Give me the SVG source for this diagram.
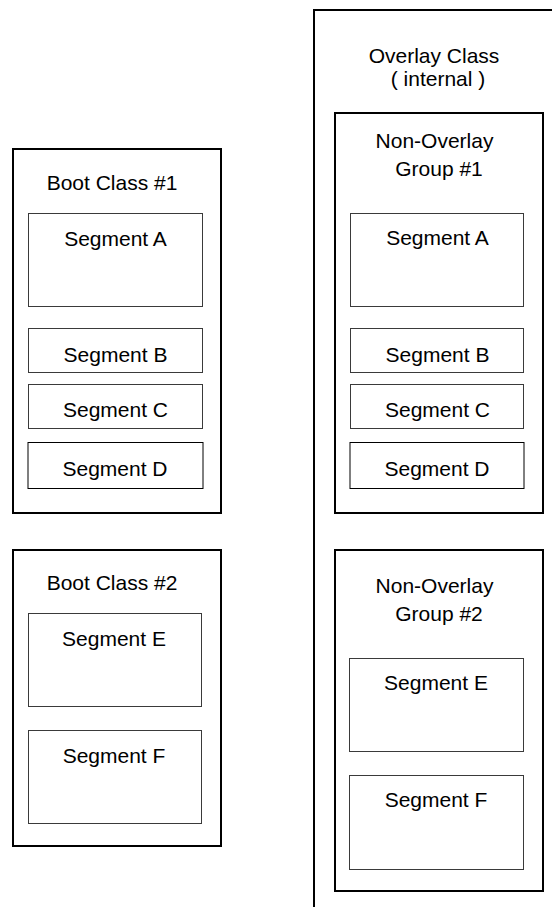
<svg xmlns="http://www.w3.org/2000/svg" width="552" height="907" viewBox="0 0 552 907">
<style>
  .outer { fill: none; stroke: #000; stroke-width: 2; }
  .seg { fill: #fff; stroke: #3a3a3a; stroke-width: 1; }
  .segd { fill: #fff; stroke: #000; stroke-width: 1; }
  text { font-family: "Liberation Sans", Arial, sans-serif; font-size: 21px; fill: #000; text-anchor: middle; }
</style>
<rect width="552" height="907" fill="#fff"/>
<g id="boot-class-1">
  <rect class="outer" x="13" y="149" width="208" height="364"/>
  <text x="112" y="190">Boot Class #1</text>
  <g id="boot1-seg-a"><rect class="seg" x="28.5" y="213.5" width="174" height="93"/><text x="115.5" y="246">Segment A</text></g>
  <g id="boot1-seg-b"><rect class="seg" x="28.5" y="328.5" width="174" height="44"/><text x="115.5" y="361.5">Segment B</text></g>
  <g id="boot1-seg-c"><rect class="seg" x="28.5" y="384.5" width="174" height="44"/><text x="115.5" y="417">Segment C</text></g>
  <g id="boot1-seg-d"><rect class="segd" x="28" y="442.5" width="175" height="46"/><text x="115" y="476">Segment D</text></g>
</g>
<g id="boot-class-2">
  <rect class="outer" x="13" y="550" width="208" height="296"/>
  <text x="112" y="590">Boot Class #2</text>
  <g id="boot2-seg-e"><rect class="seg" x="28.5" y="613.5" width="173" height="93"/><text x="114" y="646">Segment E</text></g>
  <g id="boot2-seg-f"><rect class="seg" x="28.5" y="730.5" width="173" height="93"/><text x="114" y="763">Segment F</text></g>
</g>
<g id="overlay-class">
  <path class="outer" d="M314,907 V10 H553"/>
  <text x="434" y="63">Overlay Class</text>
  <text x="438" y="86">( internal )</text>
</g>
<g id="non-overlay-group-1">
  <rect class="outer" x="335" y="113" width="208" height="400"/>
  <text x="434.5" y="148">Non-Overlay</text>
  <text x="439" y="176">Group #1</text>
  <g id="nog1-seg-a"><rect class="seg" x="350.5" y="213.5" width="173" height="93"/><text x="437.5" y="245">Segment A</text></g>
  <g id="nog1-seg-b"><rect class="seg" x="350.5" y="328.5" width="173" height="44"/><text x="437.5" y="361.5">Segment B</text></g>
  <g id="nog1-seg-c"><rect class="seg" x="350.5" y="384.5" width="173" height="44"/><text x="437.5" y="417">Segment C</text></g>
  <g id="nog1-seg-d"><rect class="segd" x="350" y="442.5" width="174" height="46"/><text x="437" y="476">Segment D</text></g>
</g>
<g id="non-overlay-group-2">
  <rect class="outer" x="335" y="550" width="208" height="341"/>
  <text x="434.5" y="593">Non-Overlay</text>
  <text x="439" y="621">Group #2</text>
  <g id="nog2-seg-e"><rect class="seg" x="349.5" y="658.5" width="174" height="93"/><text x="436" y="690">Segment E</text></g>
  <g id="nog2-seg-f"><rect class="seg" x="349.5" y="775.5" width="174" height="94"/><text x="436" y="807">Segment F</text></g>
</g>
<g id="connectors"></g>
</svg>
